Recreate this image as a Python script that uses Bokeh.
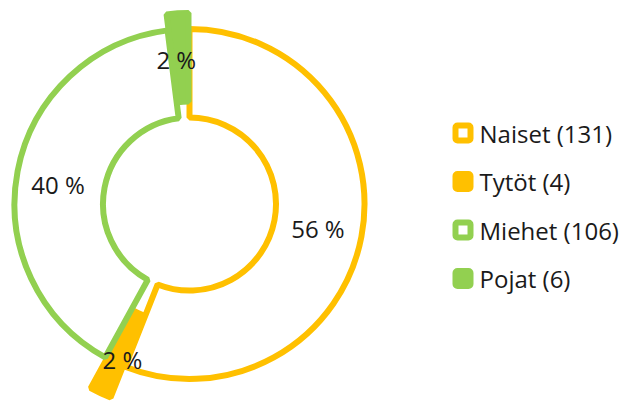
import math
from bokeh.plotting import figure
from bokeh.models import Range1d
from bokeh.embed import file_html
from bokeh.resources import INLINE
from bokeh.core.properties import value

# ---- data ----
categories = ["Naiset", "Tytöt", "Miehet", "Pojat"]
counts = [131, 4, 106, 6]
percents = [56, 2, 40, 2]
pct_labels = ["56 %", "2 %", "40 %", "2 %"]

# ---- styles ----
colors = ["#FFC000", "#FFC000", "#92D050", "#92D050"]
filled = [False, True, False, True]
explode = [0, 34, 0, 16]
label_nudge_x = [0, 3, -3, -4]
label_nudge_y = [0, -6, -5, -1.5]

W, H = 630, 403
p = figure(width=W, height=H, x_range=Range1d(0, W), y_range=Range1d(0, H),
           output_backend="svg", toolbar_location=None, min_border=0)
p.axis.visible = False
p.grid.visible = False
p.outline_line_color = None
p.background_fill_color = "white"
p.border_fill_color = "white"

cx, cy = 189, H - 203.5
r_in, r_out = 86.5, 175
FONT = value("Open Sans")

total = sum(percents)
start = 0.0
lab_x, lab_y = [], []
for i in range(len(categories)):
    sweep = 360.0 * percents[i] / total
    a0, a1 = start, start + sweep
    mid = math.radians((a0 + a1) / 2)
    ox = explode[i] * math.sin(mid)
    oy = explode[i] * math.cos(mid)
    p.annular_wedge(x=cx + ox, y=cy + oy, inner_radius=r_in, outer_radius=r_out,
                    start_angle=math.radians(90 - a0), end_angle=math.radians(90 - a1),
                    direction="clock",
                    fill_color=colors[i] if filled[i] else "white",
                    line_color=colors[i], line_width=6)
    rl = (r_in + r_out) / 2 + explode[i]
    lab_x.append(cx + rl * math.sin(mid) + label_nudge_x[i])
    lab_y.append(cy + rl * math.cos(mid) + label_nudge_y[i])
    start = a1

p.text(x=lab_x, y=lab_y, text=pct_labels, text_font=FONT, text_font_size="24px",
       text_align="center", text_baseline="middle", text_color="#1a1a1a")

# ---- legend ----
lx, ly0, dy = 462.5, H - 132.5, 48.5
for i, cat in enumerate(categories):
    y = ly0 - i * dy
    p.rect(x=lx, y=y, width=15, height=15,
           fill_color=colors[i] if filled[i] else "white",
           line_color=colors[i], line_width=6, border_radius=2)
    p.text(x=[lx + 16.5], y=[y], text=[f"{cat} ({counts[i]})"], text_font=FONT,
           text_font_size="24px", text_align="left", text_baseline="middle",
           text_color="#1a1a1a")

open("out.html", "w").write(file_html(p, INLINE))
